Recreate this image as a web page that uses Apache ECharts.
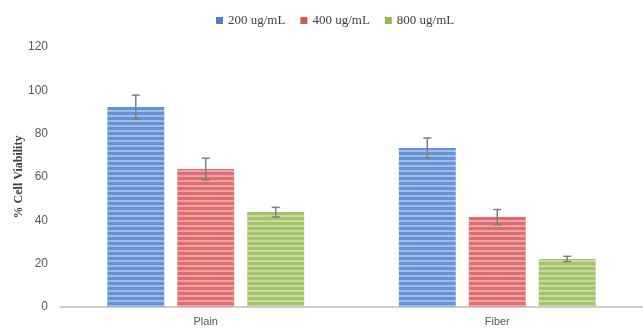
<!DOCTYPE html>
<html><head><meta charset="utf-8">
<script src="https://cdn.jsdelivr.net/npm/echarts@6/dist/echarts.min.js"></script>
<style>html,body{margin:0;padding:0;background:#fff}#c{width:643px;height:329px}</style>
</head><body><div id="c"></div>
<script>
const categories = ['Plain', 'Fiber'];
const seriesNames = ['200 ug/mL', '400 ug/mL', '800 ug/mL'];
const v200 = [92.3, 73.4];
const v400 = [63.7, 41.5];
const v800 = [43.8, 22.2];
const e200 = [5.5, 4.6];
const e400 = [5.0, 3.5];
const e800 = [2.2, 1.2];
const yTicks = [0, 20, 40, 60, 80, 100, 120];

const values = [v200, v400, v800];
const errors = [e200, e400, e800];
const colors = ['#4a7fd0', '#d95454', '#95b84d'];
const catGap = 0.325, barGap = 0.23;

const chart = echarts.init(document.getElementById('c'));
const series = [];
values.forEach((vals, i) => {
  series.push({
    name: seriesNames[i], type: 'bar', data: vals,
    barCategoryGap: (catGap*100)+'%', barGap: (barGap*100)+'%',
    itemStyle: {
      color: colors[i], opacity: 0.85,
      decal: { symbol: 'rect', symbolSize: 1, dashArrayX: [1, 0], dashArrayY: [2, 3], color: 'rgba(255,255,255,0.45)', rotation: 0 }
    }
  });
});
values.forEach((vals, i) => {
  series.push({
    type: 'custom', name: seriesNames[i] + ' err', z: 10, silent: true,
    data: vals.map((v, k) => [k, v - errors[i][k], v + errors[i][k]]),
    renderItem: function (params, api) {
      const band = api.size([1, 0])[0];
      const total = band * (1 - catGap);
      const bw = total / (3 + 2 * barGap);
      const off = (i - 1) * bw * (1 + barGap);
      const lo = api.coord([api.value(0), api.value(1)]);
      const hi = api.coord([api.value(0), api.value(2)]);
      const x = lo[0] + off;
      const cap = 4;
      const st = { stroke: '#7f7f7f', lineWidth: 1.5 };
      return { type: 'group', children: [
        { type: 'line', shape: { x1: x, y1: lo[1], x2: x, y2: hi[1] }, style: st },
        { type: 'line', shape: { x1: x - cap, y1: lo[1], x2: x + cap, y2: lo[1] }, style: st },
        { type: 'line', shape: { x1: x - cap, y1: hi[1], x2: x + cap, y2: hi[1] }, style: st }
      ]};
    }
  });
});

chart.setOption({
  animation: false,
  legend: {
    data: seriesNames, top: 9, left: 211, itemWidth: 7, itemHeight: 7, itemGap: 15,
    icon: 'rect',
    itemStyle: { decal: 'none', opacity: 1 },
    textStyle: { fontFamily: 'Liberation Serif', fontSize: 13, color: '#404040' }
  },
  grid: { left: 60, right: 0, top: 47, bottom: 22, outerBoundsMode: 'none' },
  xAxis: {
    type: 'category', data: categories,
    axisLine: { lineStyle: { color: '#bfbfbf', width: 1.5 } },
    axisTick: { show: false },
    axisLabel: { color: '#595959', fontFamily: 'Liberation Sans', fontSize: 11, margin: 9 }
  },
  yAxis: {
    type: 'value', min: yTicks[0], max: yTicks[yTicks.length - 1], interval: 20,
    splitLine: { show: false },
    axisLine: { show: false }, axisTick: { show: false },
    axisLabel: { color: '#595959', fontFamily: 'Liberation Sans', fontSize: 12, margin: 12 },
    name: '% Cell Viability', nameLocation: 'middle', nameGap: 35, nameRotate: 90,
    nameMoveOverlap: false,
    nameTextStyle: { fontFamily: 'Liberation Serif', fontWeight: 'bold', fontSize: 12, color: '#404040' }
  },
  series: series
});
</script></body></html>
